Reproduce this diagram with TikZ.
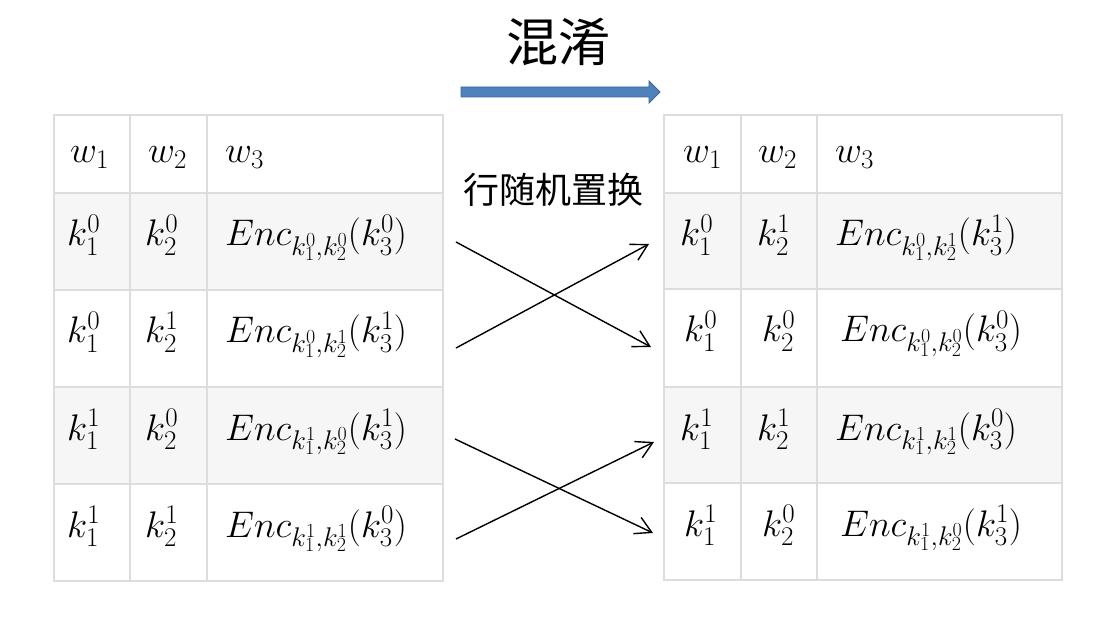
\RequirePackage{fix-cm}
\documentclass[tikz,border=0pt]{standalone}
\usepackage{fontspec}
\newfontfamily\cjk{Noto Sans CJK SC}
\usetikzlibrary{arrows.meta}
\DeclareMathSizes{37}{37}{27}{20}
\definecolor{gridc}{HTML}{DDDDDD}
\definecolor{rowc}{HTML}{F6F6F6}
\definecolor{arrowfill}{HTML}{4F81BD}
\definecolor{arrowline}{HTML}{3A6799}
\begin{document}
\begin{tikzpicture}[x=1pt,y=-1pt,
  cell/.style={anchor=base west, inner sep=0pt, font=\fontsize{37}{44}\selectfont},
  grid/.style={draw=gridc, line width=1.5pt},
  swaparrow/.style={-{Straight Barb[length=16pt,width=18pt]}, line width=1.4pt},
]
\useasboundingbox[fill=white] (0,0) rectangle (1112,620);

% shaded rows
\fill[rowc] (54,193) rectangle (443,290);
\fill[rowc] (54,387) rectangle (443,484);
\fill[rowc] (664,193) rectangle (1062,289);
\fill[rowc] (664,387) rectangle (1062,483);

% left grid
\draw[grid] (54,115) rectangle (443,581);
\foreach \y in {193,290,387,484} \draw[grid] (54,\y) -- (443,\y);
\foreach \x in {130,207} \draw[grid] (\x,115) -- (\x,581);
% right grid
\draw[grid] (664,115) rectangle (1062,580);
\foreach \y in {193,289,387,483} \draw[grid] (664,\y) -- (1062,\y);
\foreach \x in {741,817} \draw[grid] (\x,115) -- (\x,580);

% left table text
\node[cell] (Lh1) at (70,163) {$w_1$};
\node[cell] (Lh2) at (148,163) {$w_2$};
\node[cell] (Lh3) at (225,163) {$w_3$};
\node[cell] (La1) at (67,246) {$k_1^0$};
\node[cell] (La2) at (145,246) {$k_2^0$};
\node[cell] (La3) at (225,246) {$Enc_{k_1^0,k_2^0}(k_3^0)$};
\node[cell] (Lb1) at (67,343) {$k_1^0$};
\node[cell] (Lb2) at (145,343) {$k_2^1$};
\node[cell] (Lb3) at (225,343) {$Enc_{k_1^0,k_2^1}(k_3^1)$};
\node[cell] (Lc1) at (67,440) {$k_1^1$};
\node[cell] (Lc2) at (145,440) {$k_2^0$};
\node[cell] (Lc3) at (225,440) {$Enc_{k_1^1,k_2^0}(k_3^1)$};
\node[cell] (Ld1) at (67,537) {$k_1^1$};
\node[cell] (Ld2) at (145,537) {$k_2^1$};
\node[cell] (Ld3) at (225,537) {$Enc_{k_1^1,k_2^1}(k_3^0)$};

% right table text
\node[cell] (Rh1) at (683,163) {$w_1$};
\node[cell] (Rh2) at (758,163) {$w_2$};
\node[cell] (Rh3) at (835,163) {$w_3$};
\node[cell] (Ra1) at (680,246) {$k_1^0$};
\node[cell] (Ra2) at (757,246) {$k_2^1$};
\node[cell] (Ra3) at (835,246) {$Enc_{k_1^0,k_2^1}(k_3^1)$};
\node[cell] (Rb1) at (684,342) {$k_1^0$};
\node[cell] (Rb2) at (762,342) {$k_2^0$};
\node[cell] (Rb3) at (840,342) {$Enc_{k_1^0,k_2^0}(k_3^0)$};
\node[cell] (Rc1) at (680,440) {$k_1^1$};
\node[cell] (Rc2) at (757,440) {$k_2^1$};
\node[cell] (Rc3) at (835,440) {$Enc_{k_1^1,k_2^1}(k_3^0)$};
\node[cell] (Rd1) at (684,536) {$k_1^1$};
\node[cell] (Rd2) at (762,536) {$k_2^0$};
\node[cell] (Rd3) at (840,536) {$Enc_{k_1^1,k_2^0}(k_3^1)$};

% title and block arrow
\node[font=\cjk\fontsize{52}{60}\selectfont, inner sep=0pt] (title) at (558,42) {混淆};
\filldraw[fill=arrowfill, draw=arrowline, line width=0.8pt]
  (461,87) -- (649,87) -- (649,81) -- (660,92) -- (649,103) -- (649,97) -- (461,97) -- cycle;
\node[font=\cjk\fontsize{36}{40}\selectfont, inner sep=0pt] (sub) at (553,190) {行随机置换};

% permutation arrows
\coordinate (s1) at (456,242); \coordinate (e1) at (651,347);
\coordinate (s2) at (456,348); \coordinate (e2) at (649,244);
\coordinate (s3) at (455,439); \coordinate (e3) at (653,533);
\coordinate (s4) at (456,539); \coordinate (e4) at (654,442);
\draw[swaparrow] (s1) -- (e1);
\draw[swaparrow] (s2) -- (e2);
\draw[swaparrow] (s3) -- (e3);
\draw[swaparrow] (s4) -- (e4);
\end{tikzpicture}
\end{document}
